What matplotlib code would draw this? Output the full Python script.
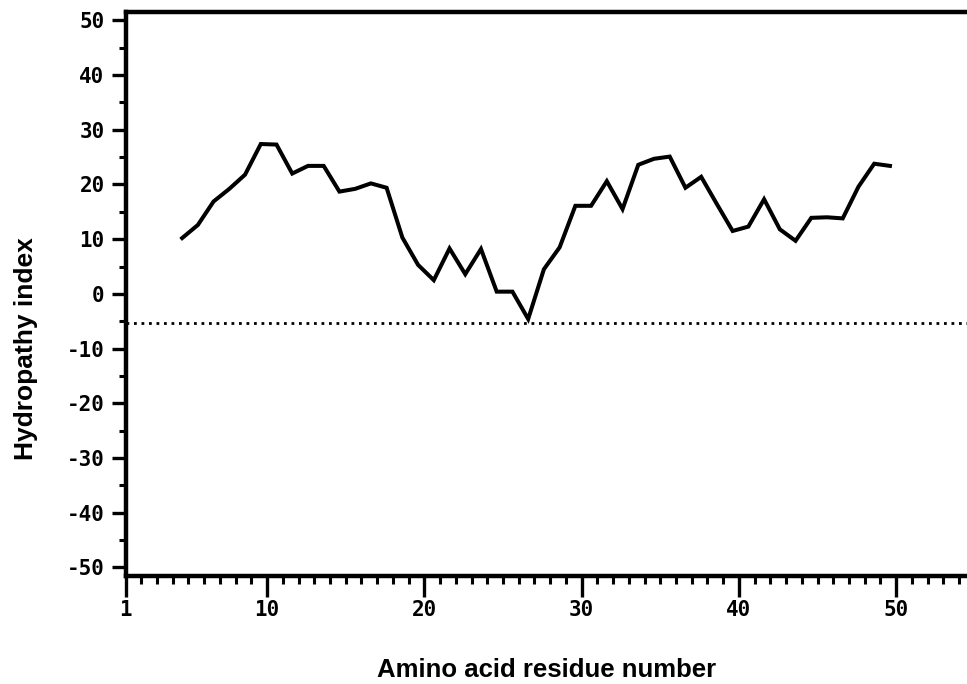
import matplotlib
matplotlib.use("Agg")
import matplotlib.pyplot as plt
import numpy as np
from matplotlib.ticker import FixedLocator, MultipleLocator

# hydropathy profile, one value per residue (window centre)
residue = np.arange(5, 51)
hydropathy = [10.2, 12.6, 16.9, 19.2, 21.8, 27.4, 27.3, 22.0, 23.4, 23.4,
              18.7, 19.2, 20.2, 19.4, 10.3, 5.3, 2.5, 8.3, 3.6, 8.2,
              0.4, 0.4, -4.6, 4.5, 8.5, 16.1, 16.1, 20.6, 15.5, 23.6,
              24.7, 25.1, 19.4, 21.4, 16.4, 11.5, 12.3, 17.3, 11.8, 9.7,
              13.9, 14.0, 13.8, 19.6, 23.8, 23.4]
cutoff = -5.4

x_ticks = [1, 10, 20, 30, 40, 50]
y_ticks = [50, 40, 30, 20, 10, 0, -10, -20, -30, -40, -50]

# the trace in the original sits a bit left of the residue ticks
x_offset = -0.4

fig = plt.figure(figsize=(9.67, 6.84), dpi=100)
ax = fig.add_axes([0.1298, 0.1579, 0.8702, 0.825])

ax.plot(residue + x_offset, hydropathy, color="black", lw=2.9,
        solid_joinstyle="miter")
ax.axhline(cutoff, color="black", lw=2.0, linestyle=(0, (1, 1.7)))

ax.set_xlim(1, 54.5)
ax.set_ylim(-51.6, 51.6)

ax.xaxis.set_major_locator(FixedLocator(x_ticks))
ax.xaxis.set_minor_locator(MultipleLocator(1))
ax.yaxis.set_major_locator(FixedLocator(y_ticks))
ax.yaxis.set_minor_locator(MultipleLocator(5))

mono = {"family": "DejaVu Sans Mono", "weight": "bold", "size": 15}
ax.set_xticklabels([str(v) for v in x_ticks], fontdict=mono)
ax.set_yticklabels([str(v) for v in y_ticks], fontdict=mono)

ax.tick_params(axis="x", which="major", length=15, width=2.4, pad=2)
ax.tick_params(axis="x", which="minor", length=6, width=2.2)
ax.tick_params(axis="y", which="major", length=10, width=2.4, pad=5)
ax.tick_params(axis="y", which="minor", length=5, width=2.2)

for side in ["left", "bottom", "top"]:
    ax.spines[side].set_linewidth(3.2)
ax.spines["right"].set_visible(False)

fig.text(0.027, 0.491, "Hydropathy index", rotation=90, ha="center",
         va="center", family="Liberation Sans", weight="bold", fontsize=19)
fig.text(0.5657, 0.0102, "Amino acid residue number", ha="center",
         va="baseline", family="Liberation Sans", weight="bold", fontsize=18.5)

fig.savefig("out.png", dpi=100)
